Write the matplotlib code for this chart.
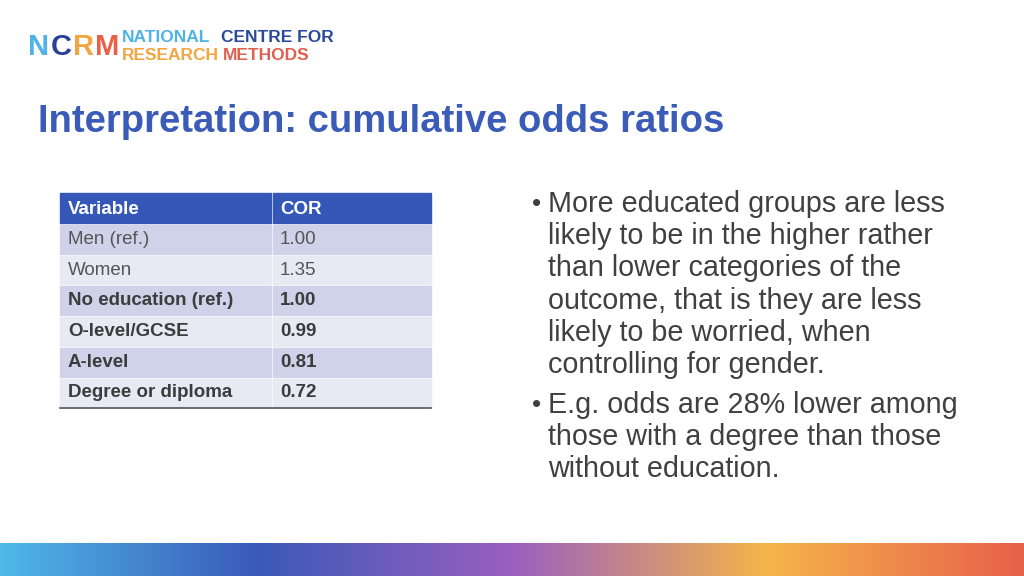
import numpy as np
import matplotlib.pyplot as plt
from matplotlib.patches import Rectangle
from matplotlib.colors import LinearSegmentedColormap

# Table data
variables = ['Men (ref.)', 'Women', 'No education (ref.)', 'O-level/GCSE', 'A-level', 'Degree or diploma']
cor_values = ['1.00', '1.35', '1.00', '0.99', '0.81', '0.72']
bold_rows = [False, False, True, True, True, True]

bullets = [
    ['More educated groups are less', 'likely to be in the higher rather',
     'than lower categories of the', 'outcome, that is they are less',
     'likely to be worried, when', 'controlling for gender.'],
    ['E.g. odds are 28% lower among', 'those with a degree than those',
     'without education.'],
]

plt.rcParams['font.family'] = 'Liberation Sans'
fig = plt.figure(figsize=(10.24, 5.76), dpi=100)
ax = fig.add_axes([0, 0, 1, 1])
ax.set_xlim(0, 1024)
ax.set_ylim(576, 0)
ax.axis('off')

# logo
for x, ch, c in [(28, 'N', '#4fb3e8'), (51, 'C', '#2b3f9a'), (73, 'R', '#f2a540'), (95, 'M', '#e8604a')]:
    ax.text(x, 47, ch, color=c, fontsize=21, fontweight='bold', va='center')
ax.text(122, 38, 'NATIONAL', color='#4fb3e8', fontsize=12.5, fontweight='bold', va='center')
ax.text(221, 38, 'CENTRE FOR', color='#2b4a9a', fontsize=12.5, fontweight='bold', va='center')
ax.text(122, 55, 'RESEARCH', color='#f2a540', fontsize=12.5, fontweight='bold', va='center')
ax.text(223, 55, 'METHODS', color='#e0604f', fontsize=12.5, fontweight='bold', va='center')

# title
ax.text(38, 122, 'Interpretation: cumulative odds ratios', color='#3a5cb8',
        fontsize=27.5, fontweight='bold', va='center')

# table
x0, xm, x1 = 60, 272, 431
ax.add_patch(Rectangle((x0, 193), xm - x0 - 1, 30, color='#3558b8'))
ax.add_patch(Rectangle((xm + 1, 193), x1 - xm - 1, 30, color='#3558b8'))
ax.text(x0 + 8, 209, 'Variable', color='white', fontsize=13.5, fontweight='bold', va='center')
ax.text(xm + 8, 209, 'COR', color='white', fontsize=13.5, fontweight='bold', va='center')
rh = 30.7
for i, (v, c, b) in enumerate(zip(variables, cor_values, bold_rows)):
    y = 224 + i * rh
    col = '#cfd2e8' if i % 2 == 0 else '#e8e9f2'
    ax.add_patch(Rectangle((x0, y + 1), xm - x0 - 1, rh - 2, color=col))
    ax.add_patch(Rectangle((xm + 1, y + 1), x1 - xm - 1, rh - 2, color=col))
    w = 'bold' if b else 'normal'
    tc = '#3c3c3c' if b else '#555555'
    ax.text(x0 + 8, y + rh / 2, v, color=tc, fontsize=13.5, fontweight=w, va='center')
    ax.text(xm + 8, y + rh / 2, c, color=tc, fontsize=13.5, fontweight=w, va='center')
ax.plot([x0, x1], [408, 408], color='#555555', lw=1.2)

# bullets
y = 204
for para in bullets:
    ax.text(532, y, '\u2022', fontsize=19, color='#404040', va='center')
    for line in para:
        ax.text(548, y, line, fontsize=20.7, color='#404040', va='center')
        y += 32.2
    y += 7.5

# bottom gradient bar
cmap = LinearSegmentedColormap.from_list('bar', ['#4fb8e8', '#3a5ab8', '#9a5fc0', '#f5b54a', '#e8604a'])
grad = np.linspace(0, 1, 512).reshape(1, -1)
ax.imshow(grad, cmap=cmap, extent=[0, 1024, 576, 543], aspect='auto')
ax.set_xlim(0, 1024)
ax.set_ylim(576, 0)

fig.savefig('out.png', dpi=100)
